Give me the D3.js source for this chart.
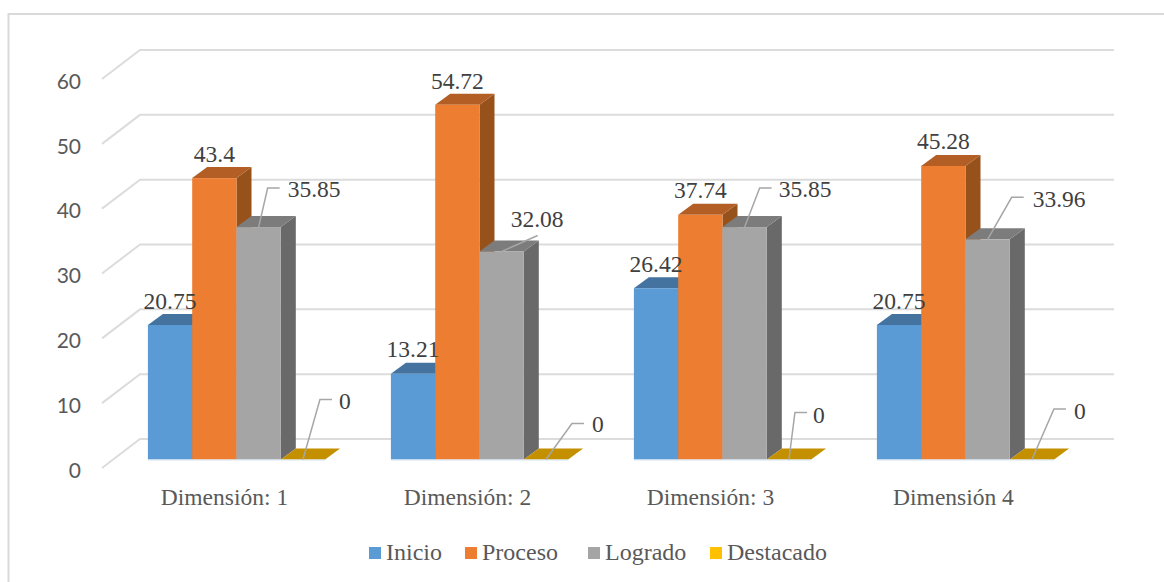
<!DOCTYPE html>
<html><head><meta charset="utf-8">
<script src="https://cdnjs.cloudflare.com/ajax/libs/d3/7.8.5/d3.min.js"></script>
<style>html,body{margin:0;padding:0;background:#fff}svg{display:block}</style>
</head><body><svg id="c" width="1164" height="582"></svg>
<script>
const categories = ["Dimensión: 1","Dimensión: 2","Dimensión: 3","Dimensión 4"];
const seriesNames = ["Inicio","Proceso","Logrado","Destacado"];
const inicio = [20.75,13.21,26.42,20.75];
const proceso = [43.4,54.72,37.74,45.28];
const logrado = [35.85,32.08,35.85,33.96];
const destacado = [0,0,0,0];
const yTicks = [0,10,20,30,40,50,60];
const seriesValues = [inicio,proceso,logrado,destacado];

// styling / layout (not data)
const frontCols = ["#5b9bd5","#ed7d31","#a5a5a5","#ffc000"];
const topCols = ["#44739f","#b25e24","#7c7c7c","#c49000"];
const sideCols = ["#3f6d96","#97521c","#696969","#c49000"];
const depthX = 15, depthY = 11;
const labelOffsets = [
 [[0,-16],[0,-16],[29,-30],[36,-51]],
 [[0,-17],[0,-16],[9,-24.5],[46,-27.5]],
 [[0,-16],[0,-17],[34,-30],[24,-37]],
 [[0,-16],[0,-17],[45,-32],[42,-40.5]]
];
const elbows = [
 [null,null,[9,-39,12],[17,-60,12]],
 [null,null,[36,-16,0],[26,-36,12]],
 [null,null,[15,-39,12],[6,-47,12]],
 [null,null,[24,-42,12],[22,-50.5,12]]
];

const svg = d3.select("#c");
const y = d3.scaleLinear().domain([0,60]).range([459.5,70.5]);
const x0 = d3.scaleBand().domain(categories).range([115,1087]);
const x1 = d3.scaleBand().domain(seriesNames).range([0,177.2]);
const groupOffset = (x0.bandwidth()-177.2)/2;
const barX = (ci,si)=> x0(categories[ci])+groupOffset+x1(seriesNames[si]);

// frame
svg.append("path").attr("d","M8.5 582V14H1164").attr("fill","none").attr("stroke","#d9d9d9").attr("stroke-width",2);

// grid
const grid = svg.append("g").attr("fill","none").attr("stroke","#dcdcdc").attr("stroke-width",2);
yTicks.forEach(t=>{
  const yb = y(t)-20.5;
  grid.append("path").attr("d",`M102 ${y(t)+8.5}L140 ${yb}H1114`);
});

// y axis labels
const axis = d3.axisLeft(y).tickValues(yTicks).tickSize(0).tickPadding(0);
const ax = svg.append("g").attr("transform","translate(81,11)").call(axis);
ax.select(".domain").remove();
ax.selectAll("text").attr("font-family","Lato, 'Open Sans', sans-serif").attr("font-size",21).attr("fill","#595959");

// bars
const w = x1.bandwidth();
categories.forEach((c,ci)=>{
  seriesNames.forEach((s,si)=>{
    const v = seriesValues[si][ci];
    const l = barX(ci,si), r = l+w, t = y(v), b = y(0);
    const g = svg.append("g");
    g.append("path").attr("fill",sideCols[si])
      .attr("d",`M${r} ${t}L${r+depthX} ${t-depthY}V${b-depthY}L${r} ${b}Z`);
    g.append("path").attr("fill",topCols[si])
      .attr("d",`M${l} ${t}L${l+depthX} ${t-depthY}H${r+depthX}L${r} ${t}Z`);
    g.append("rect").attr("x",l).attr("y",t).attr("width",w).attr("height",Math.max(b-t,0.01)).attr("fill",frontCols[si]);
  });
});
categories.forEach((c,ci)=>{
  svg.append("path").attr("d",`M${barX(ci,0)} ${y(0)+.5}h${w*4}`).attr("stroke","#d6e4f2").attr("stroke-width",1).attr("fill","none");
});

// leaders + labels
categories.forEach((c,ci)=>{
  seriesNames.forEach((s,si)=>{
    const v = seriesValues[si][ci];
    const cx = barX(ci,si)+w/2, t = y(v);
    const e = elbows[ci][si];
    const o = labelOffsets[ci][si];
    if(e){
      svg.append("path").attr("fill","none").attr("stroke","#a6a6a6").attr("stroke-width",1.5)
        .attr("d",`M${cx} ${t}L${cx+e[0]} ${t+e[1]}h${e[2]}`);
    }
    svg.append("text").attr("x",cx+o[0]).attr("y",t+o[1])
      .attr("text-anchor",e?"start":"middle")
      .attr("font-family","'Liberation Serif',serif").attr("font-size",23.5).attr("fill","#404040")
      .text(v);
  });
});

// categories
svg.append("g").selectAll("text").data(categories).join("text")
  .attr("x",d=>x0(d)+x0.bandwidth()/2-12).attr("y",505)
  .attr("text-anchor","middle").attr("font-family","'Liberation Serif',serif").attr("font-size",23.5).attr("fill","#595959")
  .text(d=>d);

// legend
const legendX = [369,465,588,710];
seriesNames.forEach((s,i)=>{
  svg.append("rect").attr("x",legendX[i]).attr("y",547).attr("width",12).attr("height",12).attr("fill",frontCols[i]);
  svg.append("text").attr("x",legendX[i]+17).attr("y",560).attr("font-family","'Liberation Serif',serif")
    .attr("font-size",24).attr("fill","#595959").text(s);
});
</script></body></html>
